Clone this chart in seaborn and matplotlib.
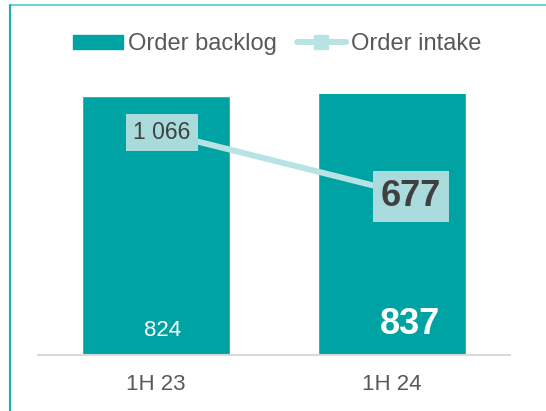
import numpy as np
import pandas as pd
import matplotlib.pyplot as plt
import seaborn as sns
from matplotlib.lines import Line2D
from matplotlib.patches import Patch

###################################################################
# data
###################################################################

periods = ['1H 23', '1H 24']
backlog = [824, 837]
intake = [1066, 677]
intake_labels = ['1 066', '677']

teal = '#00A3A3'
light = '#B8E3E5'
box = '#AADBDC'
grey_txt = '#595959'

sns.set_theme(style='white')
plt.rcParams['font.family'] = ['Liberation Sans', 'DejaVu Sans']

df = pd.DataFrame({'period': periods, 'backlog': backlog, 'intake': intake})
df['pos'] = np.arange(len(df))

###################################################################
# plot
###################################################################

fig = plt.figure(figsize=(5.46, 4.11), dpi=100)
ax = fig.add_axes([38/546, 1 - 355/411, 472/546, 261/411])

sns.barplot(data=df, x='period', y='backlog', color=teal, saturation=1,
            width=0.63, ax=ax)
ax.set_xlim(-0.5, 1.5)
ax.set_ylim(0, 830)
ax.set_xlabel('')
ax.set_ylabel('')
ax.set_yticks([])
ax.tick_params(axis='x', length=0, pad=13.5, labelsize=16, labelcolor=grey_txt)
for s in ['top', 'left', 'right']:
    ax.spines[s].set_visible(False)
ax.spines['bottom'].set_color('#D9D9D9')
ax.spines['bottom'].set_linewidth(1.5)

# bar value labels
ax.annotate('824', (0, 0), xytext=(4.5, 17.5), textcoords='offset points',
            ha='center', va='center', fontsize=16, color='white')
ax.annotate('837', (1, 0), xytext=(13, 22), textcoords='offset points',
            ha='center', va='center', fontsize=26, fontweight='bold', color='white')

# order intake on secondary axis
ax2 = ax.twinx()
sns.lineplot(data=df, x='pos', y='intake', color=light, linewidth=4.3, ax=ax2)
ax2.set_ylim(-410, 1311)
ax2.set_yticks([])
ax2.set_ylabel('')
ax2.set_xlim(-0.5, 1.5)
for s in ax2.spines.values():
    s.set_visible(False)

ax2.annotate(intake_labels[0], (0, intake[0]), xytext=(4.3, -0.7), textcoords='offset points',
             ha='center', va='center', fontsize=16.5, color='#404040',
             bbox=dict(boxstyle='square,pad=0.3', fc=box, ec='none'))
ax2.annotate(intake_labels[1], (1, intake[1]), xytext=(13.7, -4.3), textcoords='offset points',
             ha='center', va='center', fontsize=26, fontweight='bold', color='#404040',
             bbox=dict(boxstyle='square,pad=0.22', fc=box, ec='none'))

# legend
handles = [Patch(color=teal, label='Order backlog'),
           Line2D([], [], color=light, linewidth=4.3, marker='s', markersize=10,
                  label='Order intake')]
leg = fig.legend(handles=handles, loc='center', bbox_to_anchor=(0.508, 1 - 44/411),
                 ncol=2, frameon=False, fontsize=17, handlelength=2.1, handleheight=0.55,
                 handletextpad=0.2, columnspacing=0.85)
for t in leg.get_texts():
    t.set_color(grey_txt)

# frame lines at top and left
fig.add_artist(Line2D([10/546, 1], [1 - 5.5/411, 1 - 5.5/411], color='#7ACFD2', linewidth=1.5))
fig.add_artist(Line2D([10/546, 10/546], [0, 1 - 5.5/411], color='#1AAFB2', linewidth=1.5))

fig.savefig('out.png', dpi=100)
